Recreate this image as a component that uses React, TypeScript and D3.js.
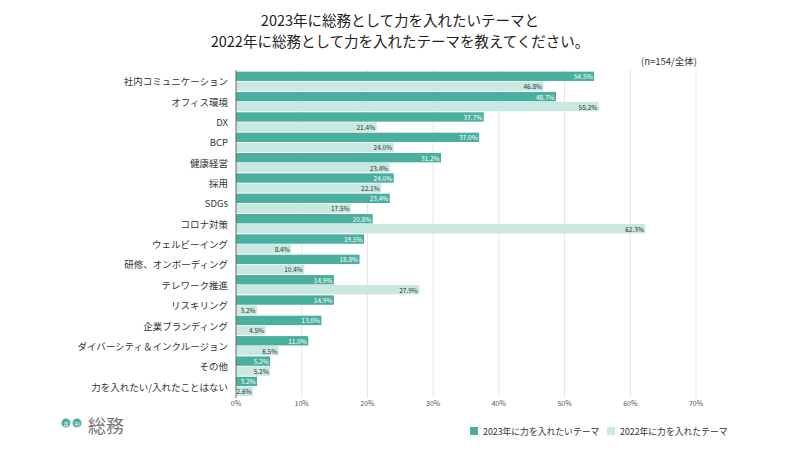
import React from "react";
import * as d3 from "d3";

const categories = [
  "社内コミュニケーション",
  "オフィス環境",
  "DX",
  "BCP",
  "健康経営",
  "採用",
  "SDGs",
  "コロナ対策",
  "ウェルビーイング",
  "研修、オンボーディング",
  "テレワーク推進",
  "リスキリング",
  "企業ブランディング",
  "ダイバーシティ＆インクルージョン",
  "その他",
  "力を入れたい/入れたことはない",
];
const values2023 = [54.5, 48.7, 37.7, 37.0, 31.2, 24.0, 23.4, 20.8, 19.5, 18.8, 14.9, 14.9, 13.0, 11.0, 5.2, 3.2];
const values2022 = [46.8, 55.2, 21.4, 24.0, 23.4, 22.1, 17.5, 62.3, 8.4, 10.4, 27.9, 3.2, 4.5, 6.5, 5.2, 2.6];
const xTicks = [0, 10, 20, 30, 40, 50, 60, 70];
const seriesNames = ["2023年に力を入れたいテーマ", "2022年に力を入れたテーマ"];
const titleLines = ["2023年に総務として力を入れたいテーマと", "2022年に総務として力を入れたテーマを教えてください。"];
const noteText = "(n=154/全体)";

const C1 = "#4baf9f";
const C2 = "#c9e8e1";
const FONT = "'Noto Sans CJK JP', 'Noto Sans', sans-serif";

export default function App() {
  const W = 800, H = 450;
  const x = d3.scaleLinear().domain([0, 70]).range([236, 696]);
  const y = d3.scaleBand<string>().domain(categories).range([71, 396.5]).paddingInner(0).paddingOuter(0);
  const band = y.bandwidth();
  const barH = band * 0.46;
  const gap = band * 0.03;
  const fmt = (v: number) => v.toFixed(1) + "%";

  return (
    <div style={{ position: "absolute", left: 0, top: 0, width: W, height: H, background: "#fff" }}>
      <svg width={W} height={H} style={{ display: "block", fontFamily: FONT }}>
        <rect x={0} y={0} width={W} height={H} fill="#fff" />
        {titleLines.map((t, i) => (
          <text key={i} x={400} y={26 + i * 21} textAnchor="middle" fontSize={14.5} fill="#222">{t}</text>
        ))}
        <text x={697} y={65} textAnchor="end" fontSize={9.5} fill="#333">{noteText}</text>
        {xTicks.map((t) => (
          <g key={t}>
            {t > 0 && <line x1={x(t)} x2={x(t)} y1={70} y2={398} stroke="#e6e6e6" strokeWidth={1} />}
            <text x={x(t)} y={406} textAnchor="middle" fontSize={7} fill="#555">{t + "%"}</text>
          </g>
        ))}
        {categories.map((c, i) => {
          const y0 = (y(c) as number) + band * 0.03;
          const y1 = y0 + barH + gap;
          return (
            <g key={c}>
              <text x={228} y={y0 + band * 0.55} textAnchor="end" dominantBaseline="middle" fontSize={9.5} fill="#333">{c}</text>
              <rect x={x(0)} y={y0} width={x(values2023[i]) - x(0)} height={barH} fill={C1} />
              <text x={x(values2023[i]) - 1.5} y={y0 + barH / 2} textAnchor="end" dominantBaseline="central" fontSize={6.5} fill="#fff">{fmt(values2023[i])}</text>
              <rect x={x(0)} y={y1} width={x(values2022[i]) - x(0)} height={barH} fill={C2} />
              <text x={x(values2022[i]) - 1.5} y={y1 + barH / 2} textAnchor="end" dominantBaseline="central" fontSize={6.5} fill="#333">{fmt(values2022[i])}</text>
            </g>
          );
        })}
        <line x1={x(0)} x2={x(0)} y1={70} y2={398} stroke="#666" strokeWidth={1} />
        {seriesNames.map((s, i) => (
          <g key={s} transform={`translate(${[470, 607][i]},${431})`}>
            <rect x={0} y={-4} width={8} height={8} fill={i === 0 ? C1 : C2} />
            <text x={13} y={0} dominantBaseline="central" fontSize={8.8} fill="#333">{s}</text>
          </g>
        ))}
        <g>
          <circle cx={66} cy={423} r={4.5} fill={C1} />
          <text x={66} y={423} textAnchor="middle" dominantBaseline="central" fontSize={5} fill="#fff">月</text>
          <circle cx={77} cy={423} r={4.5} fill={C1} />
          <text x={77} y={423} textAnchor="middle" dominantBaseline="central" fontSize={5} fill="#fff">刊</text>
          <text x={88} y={425} dominantBaseline="central" fontSize={18} fill="#777">総務</text>
        </g>
      </svg>
    </div>
  );
}
